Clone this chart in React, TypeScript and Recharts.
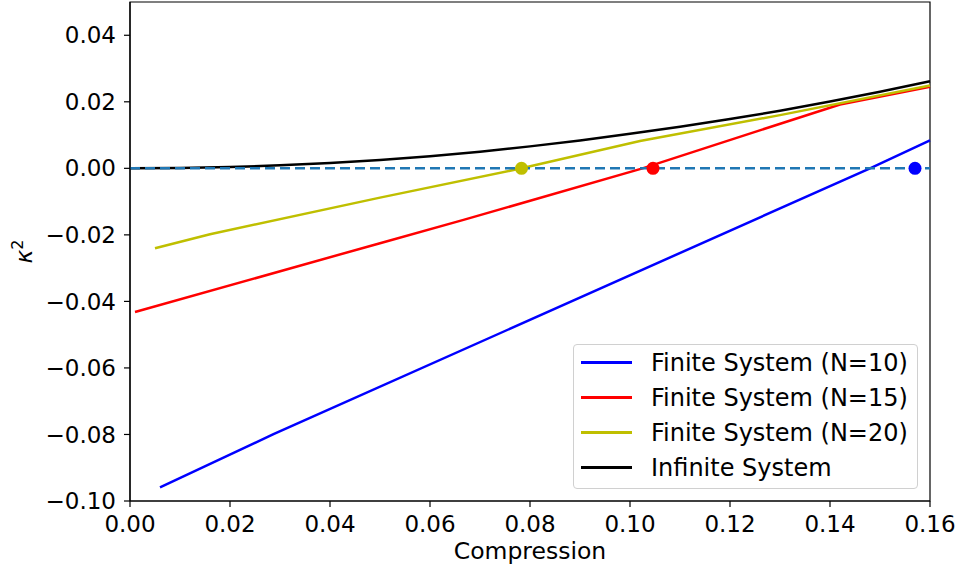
import React from 'react';
import { ComposedChart, Line, Scatter, XAxis, YAxis, ReferenceArea } from 'recharts';

// series values
const n10X = [0.006, 0.0287, 0.148, 0.16];
const n10Y = [-0.0959, -0.0799, 0, 0.0084];

const n15X = [0.001, 0.05, 0.0667, 0.1025, 0.142, 0.16];
const n15Y = [-0.0432, -0.0225, -0.0155, 0, 0.0192, 0.0245];

const n20X = [0.005, 0.016, 0.05, 0.0783, 0.102, 0.13, 0.16];
const n20Y = [-0.024, -0.0198, -0.0088, 0, 0.0082, 0.016, 0.0249];

const infX = [0, 0.01, 0.02, 0.03, 0.04, 0.05, 0.06, 0.07, 0.08, 0.09, 0.1, 0.11, 0.12, 0.13, 0.14, 0.15, 0.16];
const infY = [0, 0.0001, 0.0004, 0.0009, 0.0016, 0.0025, 0.0036, 0.005, 0.0066, 0.0084, 0.0104, 0.0125, 0.0148, 0.0173, 0.0201, 0.023, 0.0262];

// critical compression markers on the zero line
const critX = [0.157, 0.1046, 0.0783];

const xTicks = [0, 0.02, 0.04, 0.06, 0.08, 0.1, 0.12, 0.14, 0.16];
const yTicks = [-0.1, -0.08, -0.06, -0.04, -0.02, 0, 0.02, 0.04];

const zip = (xs: number[], ys: number[]) => xs.map((x, i) => ({ x, y: ys[i] }));

const series = [
  { name: 'Finite System (N=10)', color: '#0000ff', data: zip(n10X, n10Y) },
  { name: 'Finite System (N=15)', color: '#ff0000', data: zip(n15X, n15Y) },
  { name: 'Finite System (N=20)', color: '#bfbf00', data: zip(n20X, n20Y) },
  { name: 'Infinite System', color: '#000000', data: zip(infX, infY) },
];

const zeroLine = [{ x: 0, y: 0 }, { x: 0.16, y: 0 }];

const FONT = 'DejaVu Sans, sans-serif';
const fmt = (v: number) => v.toFixed(2).replace('-', '\u2212');

const YLabel = (props: any) => {
  const vb = props.viewBox || {};
  const cy = vb.height ? vb.y + vb.height / 2 : 252;
  return (
    <text
      x={32}
      y={cy}
      transform={`rotate(-90, 32, ${cy})`}
      textAnchor="middle"
      fontFamily={FONT}
      fontSize={23.5}
      fill="#000"
    >
      <tspan fontStyle="italic">κ</tspan>
      <tspan fontSize={16} dy={-9}>2</tspan>
    </text>
  );
};

const LegendBox = () => (
  <div
    style={{
      position: 'absolute',
      left: 573,
      top: 344,
      width: 345,
      height: 145,
      boxSizing: 'border-box',
      border: '1px solid #d0d0d0',
      borderRadius: 4,
      background: 'rgba(255,255,255,0.8)',
      fontFamily: FONT,
      fontSize: 24,
      color: '#000',
    }}
  >
    {series.map((s) => (
      <div key={s.name} style={{ height: 35, display: 'flex', alignItems: 'center' }}>
        <div style={{ marginLeft: 7, width: 51, height: 3, background: s.color }} />
        <span style={{ marginLeft: 19, whiteSpace: 'nowrap' }}>{s.name}</span>
      </div>
    ))}
  </div>
);

export default function App() {
  return (
    <div style={{ position: 'absolute', left: 0, top: 0, width: 960, height: 574, background: '#fff' }}>
      <ComposedChart width={960} height={574} margin={{ top: 2, right: 30, left: 0, bottom: 0 }}>
        <XAxis
          dataKey="x"
          type="number"
          domain={[0, 0.16]}
          ticks={xTicks}
          tickFormatter={fmt}
          height={73}
          tickSize={6}
          tickMargin={9}
          axisLine={{ stroke: '#000', strokeWidth: 1.2 }}
          tickLine={{ stroke: '#000', strokeWidth: 1.2 }}
          tick={{ fontSize: 23, fill: '#000', fontFamily: FONT }}
          allowDuplicatedCategory={false}
          label={{ value: 'Compression', position: 'insideBottom', offset: 15, fontSize: 23.5, fill: '#000', fontFamily: FONT }}
        />
        <YAxis
          dataKey="y"
          type="number"
          domain={[-0.1, 0.05]}
          ticks={yTicks}
          tickFormatter={fmt}
          width={130}
          tickSize={6}
          tickMargin={8}
          axisLine={{ stroke: '#000', strokeWidth: 1.2 }}
          tickLine={{ stroke: '#000', strokeWidth: 1.2 }}
          tick={{ fontSize: 23, fill: '#000', fontFamily: FONT }}
          label={<YLabel />}
        />
        <ReferenceArea x1={0} x2={0.16} y1={-0.1} y2={0.05} fill="none" stroke="#000" strokeWidth={1.2} />
        {series.map((s) => (
          <Line
            key={s.name}
            data={s.data}
            dataKey="y"
            name={s.name}
            type="linear"
            stroke={s.color}
            strokeWidth={2.5}
            dot={false}
            activeDot={false}
            isAnimationActive={false}
          />
        ))}
        <Line
          data={zeroLine}
          dataKey="y"
          type="linear"
          stroke="#1f77b4"
          strokeWidth={2.5}
          strokeDasharray="10 5"
          dot={false}
          activeDot={false}
          isAnimationActive={false}
        />
        {critX.map((x, i) => (
          <Scatter
            key={`crit-${i}`}
            data={[{ x, y: 0 }]}
            dataKey="y"
            fill={series[i].color}
            isAnimationActive={false}
            shape={(p: any) => <circle cx={p.cx} cy={p.cy} r={6.5} fill={series[i].color} />}
          />
        ))}
      </ComposedChart>
      <LegendBox />
    </div>
  );
}
